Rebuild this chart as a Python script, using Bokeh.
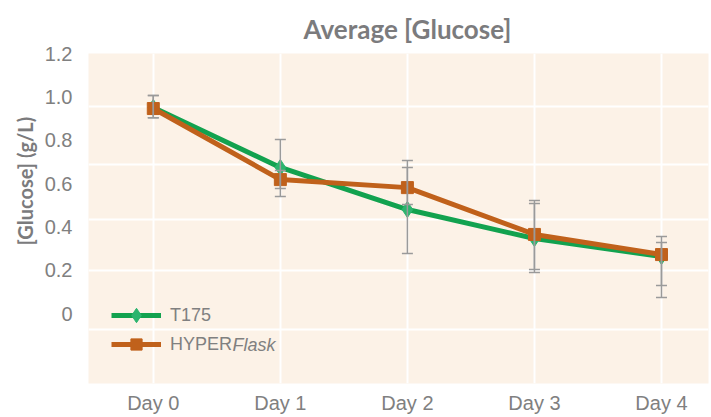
from bokeh.plotting import figure
from bokeh.models import (ColumnDataSource, FixedTicker, Legend, LegendItem, Label,
                          Whisker, TeeHead, Grid, Title)
from bokeh.embed import file_html
from bokeh.resources import INLINE

# ---- data ----
days = ["Day 0", "Day 1", "Day 2", "Day 3", "Day 4"]
t175 = [0.951, 0.674, 0.480, 0.346, 0.263]
t175_upper = [1.006, 0.803, 0.706, 0.508, 0.355]
t175_lower = [0.904, 0.540, 0.277, 0.189, 0.074]
hyper = [0.946, 0.618, 0.581, 0.365, 0.272]
hyper_upper = [1.006, 0.660, 0.674, 0.521, 0.328]
hyper_lower = [0.904, 0.577, 0.503, 0.203, 0.129]
y_ticks = [0, 0.2, 0.4, 0.6, 0.8, 1.0, 1.2]
y_tick_labels = ["0", "0.2", "0.4", "0.6", "0.8", "1.0", "1.2"]

# ---- styling ----
GRAY = "#808080"
TGRAY = "#7b7b7d"
BG = "#fcf2e7"
GREEN = "#12a24f"
GREEN_MK = "#2cb46e"
ORANGE = "#c0611b"
ERR = "#9a9a9a"
GRID_Y = [0.955, 0.688, 0.434, 0.198, -0.074]

x = list(range(len(days)))

p = figure(width=711, height=417, output_backend="svg", toolbar_location=None,
           x_range=(-0.51, 4.37), y_range=(-0.323, 1.2),
           min_border_left=88, min_border_right=3, min_border_top=53, min_border_bottom=34)
p.background_fill_color = BG
p.border_fill_color = "white"
p.outline_line_color = None

p.title.text = "Average [Glucose]"
p.title.text_font = "Lato"
p.title.text_font_style = "bold"
p.title.text_font_size = "26px"
p.title.text_color = TGRAY
p.title.align = "left"
p.title.offset = 215
p.title.standoff = 17

# axes
for ax in (p.xaxis[0], p.yaxis[0]):
    ax.axis_line_color = None
    ax.major_tick_line_color = None
    ax.minor_tick_line_color = None
    ax.major_label_text_font = "Liberation Sans"
    ax.major_label_text_font_size = "20px"
    ax.major_label_text_color = GRAY

p.xaxis.ticker = FixedTicker(ticks=x)
p.xaxis.major_label_overrides = {i: d for i, d in zip(x, days)}
p.xaxis.major_label_standoff = 2
p.yaxis.ticker = FixedTicker(ticks=y_ticks)
p.yaxis.major_label_overrides = {t: l for t, l in zip(y_ticks, y_tick_labels)}
p.yaxis.major_label_standoff = 10

# y axis title, in the left panel
ytitle = Title(text="[Glucose] (g/L)", align="left", offset=138,
               text_font="Lato", text_font_style="bold", text_font_size="20px",
               text_color=TGRAY, standoff=10)
p.add_layout(ytitle, "left")

# grids
p.xgrid.grid_line_color = "white"
p.xgrid.grid_line_width = 2
p.ygrid.visible = False
p.add_layout(Grid(dimension=1, ticker=FixedTicker(ticks=GRID_Y),
                  grid_line_color="white", grid_line_width=2))

# error bars
src_t = ColumnDataSource(dict(x=x, y=t175, up=t175_upper, lo=t175_lower))
src_h = ColumnDataSource(dict(x=x, y=hyper, up=hyper_upper, lo=hyper_lower))
for src in (src_t, src_h):
    w = Whisker(source=src, base="x", upper="up", lower="lo",
                line_color=ERR, line_width=1.5,
                upper_head=TeeHead(size=11, line_color=ERR, line_width=1.5),
                lower_head=TeeHead(size=11, line_color=ERR, line_width=1.5))
    w.level = "glyph"
    p.add_layout(w)

lt = p.line("x", "y", source=src_t, line_color=GREEN, line_width=5)
mt = p.scatter("x", "y", source=src_t, marker="diamond", size=16,
               fill_color=GREEN_MK, line_color=GREEN_MK)
lh = p.line("x", "y", source=src_h, line_color=ORANGE, line_width=5)
mh = p.scatter("x", "y", source=src_h, marker="square", size=12,
               fill_color=ORANGE, line_color=ORANGE)

common = dict(padding=0, margin=0, glyph_width=50, label_height=20, label_standoff=9,
              label_text_font="Liberation Sans", label_text_font_size="18px",
              label_text_color=GRAY, background_fill_alpha=0, border_line_color=None)
leg1 = Legend(items=[LegendItem(label="T175", renderers=[lt, mt])],
              location=(23, 50), glyph_height=36, **common)
leg2 = Legend(items=[LegendItem(label="HYPER", renderers=[lh, mh])],
              location=(23, 25), glyph_height=28, **common)
p.add_layout(leg1)
p.add_layout(leg2)

p.add_layout(Label(x=144, y=39, x_units="screen", y_units="screen", text="Flask",
                   text_font="Liberation Sans", text_font_style="italic",
                   text_font_size="18px", text_color=GRAY, text_baseline="middle"))

open("out.html", "w").write(file_html(p, INLINE))
